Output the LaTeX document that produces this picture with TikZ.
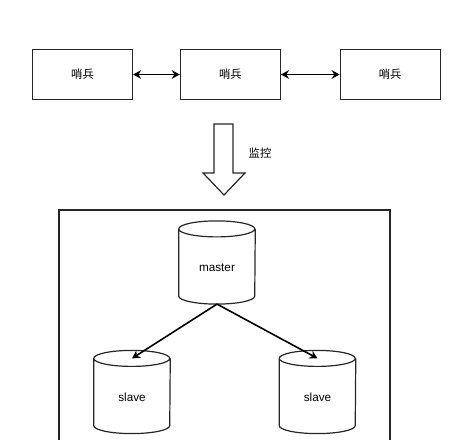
\documentclass[tikz,border=0pt]{standalone}
\usepackage{fontspec}
\setmainfont{Liberation Sans}
\newfontfamily\cjk{Noto Sans CJK SC}
\usetikzlibrary{arrows.meta,positioning}

% cylinder outline round a db node
\newcommand\drawdb[1]{%
  \draw[outline] ([yshift=-6pt]#1.north west)
    arc[start angle=180,end angle=360,x radius=28.5pt,y radius=6pt]
    arc[start angle=0,end angle=180,x radius=28.5pt,y radius=6pt]
    -- ([yshift=6pt]#1.south west)
    arc[start angle=180,end angle=360,x radius=28.5pt,y radius=6pt]
    -- ([yshift=-6pt]#1.north east);}

\begin{document}
\begin{tikzpicture}[
    x=0.75pt, y=0.75pt,
    >={Stealth[length=6pt,width=6.5pt]},
    outline/.style={draw=black!85, line width=0.9pt},
    sentinel/.style={outline, minimum width=75pt, minimum height=37.5pt,
        font=\cjk\fontsize{8.5}{10}\selectfont},
    db/.style={minimum width=57pt, inner sep=0pt, text height=38pt,
        text depth=24pt, font=\fontsize{8.8}{10}\selectfont},
    link/.style={<->, line width=1.2pt},
    repl/.style={->, line width=1.2pt}
]
\useasboundingbox (0,0) rectangle (460,439);
\clip (0,0) rectangle (460,439);

% sentinels
\node[sentinel] (sentA) at (82.5,364.5) {哨兵};
\node[sentinel, right=35pt of sentA] (sentB) {哨兵};
\node[sentinel, right=44pt of sentB] (sentC) {哨兵};
\draw[link] (sentA) -- (sentB);
\draw[link] (sentB) -- (sentC);

% monitor arrow
\draw[outline] (214,315) -- (233,315) -- (233,266) -- (245,266) -- (224,244)
    -- (203,266) -- (214,266) -- cycle;
\node[font=\cjk\fontsize{8.5}{10}\selectfont] (monitor) at (260,286) {监控};

% redis group
\draw[outline] (59,229) rectangle (390,-30);
\node[db] (master) at (217,176.5) {master};
\node[db] (slaveL) at (132,47) {slave};
\node[db] (slaveR) at (317.5,47) {slave};
\drawdb{master}
\drawdb{slaveL}
\drawdb{slaveR}
\draw[repl] (master.south) -- ([yshift=-6pt]slaveL.north);
\draw[repl] (master.south) -- ([yshift=-6pt]slaveR.north);
\end{tikzpicture}
\end{document}
